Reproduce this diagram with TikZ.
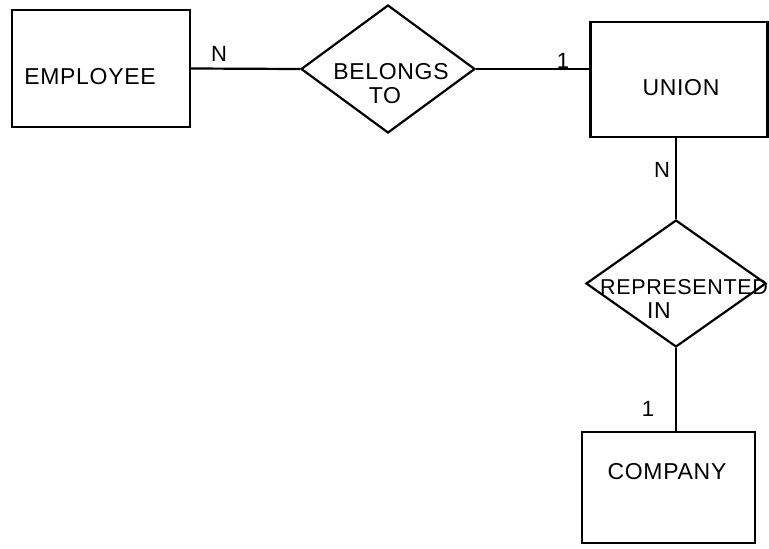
\documentclass[tikz,border=0pt]{standalone}
\usepackage{fontspec}
\setmainfont{Liberation Sans}[LetterSpace=3]
\usetikzlibrary{shapes.geometric}
\begin{document}
\begin{tikzpicture}[x=1pt,y=-1pt,
  ent/.style={draw,line width=2.2pt,rectangle,inner sep=0pt},
  rel/.style={draw,line width=2.2pt,diamond,inner sep=0pt,minimum width=174pt,minimum height=128pt},
  txt/.style={inner sep=0pt,font=\fontsize{23}{26}\selectfont},
  card/.style={inner sep=0pt,font=\fontsize{22}{26}\selectfont},
  conn/.style={line width=2.2pt}]
\useasboundingbox (0,0) rectangle (769,549);
\node[ent,minimum width=178pt,minimum height=117pt] (emp) at (101,68.5) {};
\node[rel] (bel) at (388,69) {};
\node[ent,minimum width=177pt,minimum height=115pt] (uni) at (679,79.5) {};
\node[rel,minimum width=180pt,minimum height=127pt] (rep) at (676,283.5) {};
\node[ent,minimum width=173pt,minimum height=111pt] (com) at (668.5,487.5) {};
\node[txt] (empt) at (90,77) {EMPLOYEE};
\node[txt] (belt1) at (391,72) {BELONGS};
\node[txt] (belt2) at (385,96) {TO};
\node[txt] (unit) at (681,88) {UNION};
\node[txt,font=\fontsize{21.5}{24}\selectfont] (rept1) at (684,287) {REPRESENTED};
\node[txt] (rept2) at (659,311) {IN};
\node[txt] (comt) at (667,472) {COMPANY};
\draw[conn] (emp.east) -- (bel.west);
\draw[conn] (bel.east) -- (bel.east -| uni.west);
\draw[conn] (uni.south -| rep.north) -- (rep.north);
\draw[conn] (rep.south) -- (rep.south |- com.north);
\node[card] (c1) at (219,54) {N};
\node[card] (c2) at (563,61) {1};
\node[card] (c3) at (662,170) {N};
\node[card] (c4) at (648,409) {1};
\end{tikzpicture}
\end{document}
